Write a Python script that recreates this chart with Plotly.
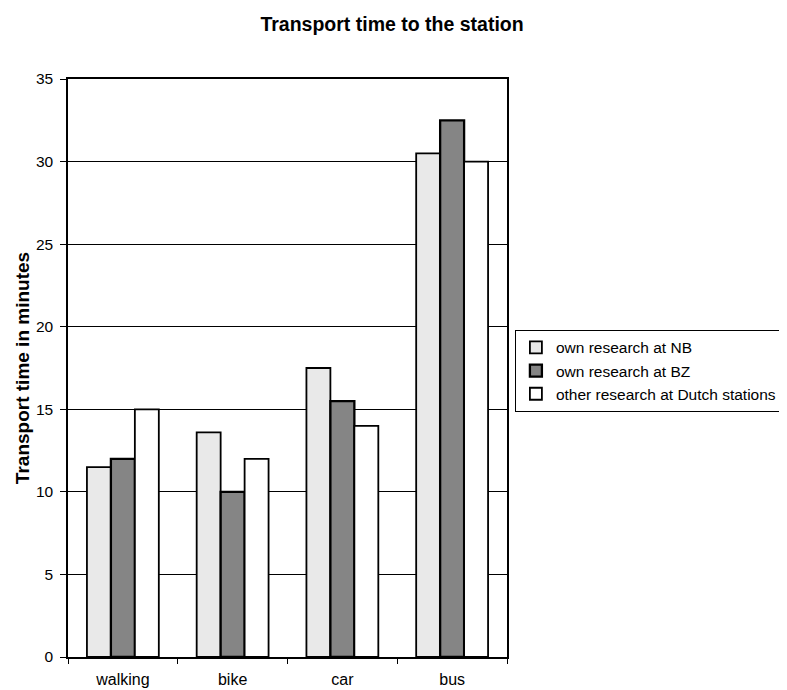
import plotly.graph_objects as go

categories = ["walking", "bike", "car", "bus"]
nb_values = [11.5, 13.6, 17.5, 30.5]
bz_values = [12.0, 10.0, 15.5, 32.5]
dutch_values = [15.0, 12.0, 14.0, 30.0]
series_names = ["own research at NB", "own research at BZ", "other research at Dutch stations"]
y_ticks = [0, 5, 10, 15, 20, 25, 30, 35]

fig = go.Figure()
colors = ["#e9e9e9", "#858585", "#ffffff"]
widths = [1.8, 2.3, 1.8]
for name, vals, col, lw in zip(series_names, [nb_values, bz_values, dutch_values], colors, widths):
    fig.add_trace(go.Bar(
        x=categories, y=vals, name=name,
        marker=dict(color=col, line=dict(color="black", width=lw)),
    ))

fig.update_layout(
    width=779, height=682,
    margin=dict(l=60, r=280, t=71, b=33, autoexpand=False),
    paper_bgcolor="white", plot_bgcolor="white",
    barmode="group", bargap=0.345, bargroupgap=0,
    font=dict(family="Liberation Sans, Arial", color="black", size=15),
    title=dict(text="<b>Transport time to the station</b>", x=0.493, xanchor="center",
               y=0.9765, yanchor="middle", font=dict(size=19.5)),
    legend=dict(x=1.018, y=0.566, xanchor="left", yanchor="top",
                bordercolor="black", borderwidth=1, bgcolor="white",
                font=dict(size=15.5), tracegroupgap=0, itemwidth=30),
    showlegend=True,
)
fig.update_yaxes(range=[0, 35], tickvals=y_ticks, showgrid=True, gridcolor="black", gridwidth=1.2,
                 showline=True, linecolor="black", linewidth=1.5, mirror=True,
                 ticks="outside", ticklen=6, tickcolor="black", tickwidth=1.2, zeroline=False,
                 tickfont=dict(size=15.5), ticklabelstandoff=4, automargin=False,
                 title=dict(text="<b>Transport time in minutes</b>", font=dict(size=19), standoff=1))
fig.update_xaxes(showline=True, linecolor="black", linewidth=1.5, mirror=True,
                 ticks="outside", tickson="boundaries", ticklen=5, tickcolor="black",
                 tickfont=dict(size=16), ticklabelstandoff=7, automargin=False)

fig.write_html("out.html")
